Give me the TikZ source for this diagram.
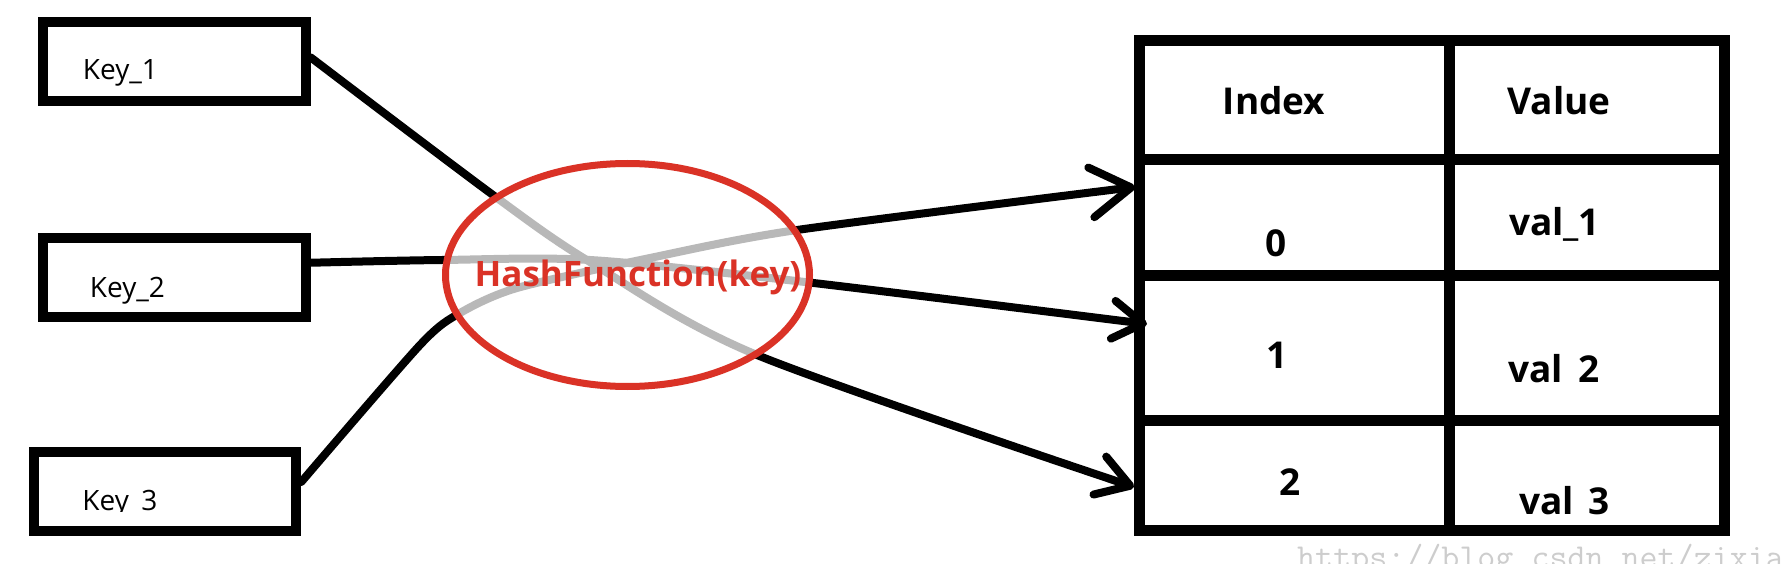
\documentclass[tikz,border=0pt]{standalone}
\usepackage{fontspec}
\setmainfont{Open Sans}
\usetikzlibrary{shapes.geometric,arrows.meta}
\definecolor{hred}{RGB}{218,50,38}
\definecolor{wm}{RGB}{205,205,205}
\tikzset{
  keybox/.style={draw, line width=10pt, minimum width=262.5pt, minimum height=79pt, inner sep=0pt},
  cell/.style={draw, line width=11pt, inner sep=0pt},
  keytxt/.style={anchor=base, inner sep=0pt, font=\fontsize{28}{32}\selectfont},
  tabtxt/.style={anchor=base, inner sep=0pt, font=\fontsize{37}{42}\selectfont\bfseries},
  conn/.style={line width=8pt, line cap=round, line join=round},
}
\begin{document}
\begin{tikzpicture}[x=1pt,y=-1pt]
\useasboundingbox (0,0) rectangle (1792,564);
\clip (0,0) rectangle (1792,564);
\fill[white] (0,0) rectangle (1792,564);

% key boxes
\node[keybox] (k1) at (174.25,61.25) {};
\node[keybox] (k2) at (174.25,277.75) {};
\node[keybox] (k3) at (165,491) {};
\node[keytxt] (k1t) at (120.5,80) {Key\_1};
\node[keytxt] (k2t) at (127.5,298) {Key\_2};
\begin{scope}
  \clip (38,456) rectangle (292,511.5);
  \node[keytxt] (k3t) at (120,510) {Key\_3};
\end{scope}

% table cells
\node[cell, minimum width=310.5pt, minimum height=118.5pt] (hi) at (1294.25,100.25) {};
\node[cell, minimum width=275pt,   minimum height=118.5pt] (hv) at (1587,100.25) {};
\node[cell, minimum width=310.5pt, minimum height=116pt]   (i0) at (1294.25,217.5) {};
\node[cell, minimum width=275pt,   minimum height=116pt]   (v0) at (1587,217.5) {};
\node[cell, minimum width=310.5pt, minimum height=144.5pt] (i1) at (1294.25,347.75) {};
\node[cell, minimum width=275pt,   minimum height=144.5pt] (v1) at (1587,347.75) {};
\node[cell, minimum width=310.5pt, minimum height=110.5pt] (i2) at (1294.25,475.25) {};
\node[cell, minimum width=275pt,   minimum height=110.5pt] (v2) at (1587,475.25) {};

\node[tabtxt] (hit) at (1274,115) {Index};
\node[tabtxt] (hvt) at (1559,115) {Value};
\node[tabtxt] (i0t) at (1276,257) {0};
\node[tabtxt] (i1t) at (1277.5,368) {1};
\node[tabtxt] (i2t) at (1290,495) {2};
\node[tabtxt] (v0t) at (1554.5,236) {val\_1};
\begin{scope}
  \clip (1455,282) rectangle (1718,383);
  \node[tabtxt] (v1t) at (1554,382) {val\_2};
\end{scope}
\begin{scope}
  \clip (1455,426) rectangle (1718,515);
  \node[tabtxt] (v2t) at (1564.5,514) {val\_3};
\end{scope}

% arrow end points on the table
\coordinate (t0) at (1135,187);
\coordinate (t1) at (1147,324);
\coordinate (t2) at (1134,487);

% connectors
\draw[conn, -{Straight Barb[length=40pt,width=50pt,round]}]
  plot[smooth, tension=0.45] coordinates {([yshift=9pt]k3.east) (420,345) (460,313) (517,288) (650,258) (797,230) (t0)};
\draw[conn, -{Straight Barb[length=30pt,width=38pt,round]}]
  plot[smooth, tension=0.5] coordinates {([yshift=15pt]k2.east) (442,260) (590,260) (805,282) (t1)};
\draw[conn, -{Straight Barb[length=32pt,width=40pt,round]}]
  plot[smooth, tension=0.5] coordinates {([yshift=4pt]k1.east) (493,195) (590,262) (757,355) (t2)};

% hash function ellipse
\node[ellipse, draw=hred, line width=7pt, fill=white, fill opacity=0.72, draw opacity=1,
      minimum width=364pt, minimum height=223pt, inner sep=0pt] (hf) at (627.5,275) {};
\node[anchor=base, inner sep=0pt, text=hred, font=\fontsize{35}{40}\selectfont\bfseries] (hft) at (638,287) {HashFunction(key)};

% watermark
\node[anchor=base west, inner sep=0pt, text=wm, font=\ttfamily\fontsize{35}{40}\selectfont] (wmk) at (1297,568) {https://blog.csdn.net/zixia};
\end{tikzpicture}
\end{document}
